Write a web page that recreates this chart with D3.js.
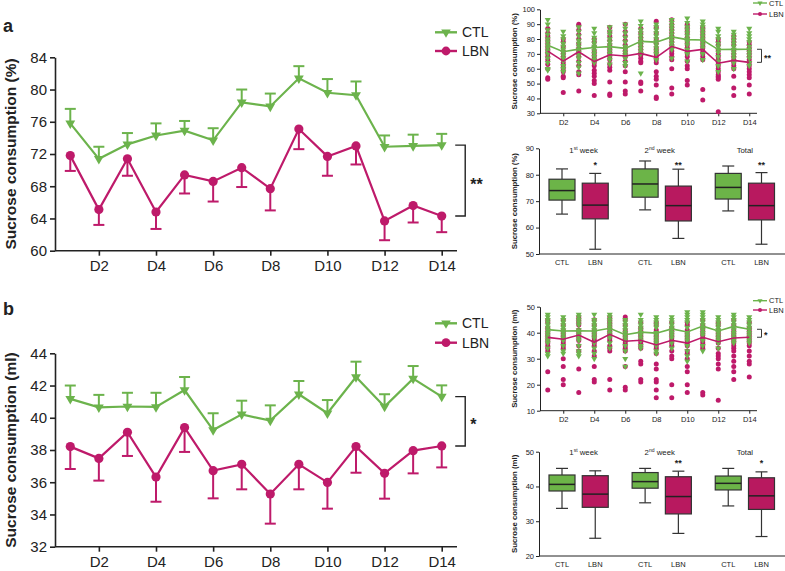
<!DOCTYPE html>
<html><head><meta charset="utf-8">
<script src="https://cdn.jsdelivr.net/npm/d3@7"></script>
<style>body{margin:0;background:#fff}svg{display:block;font-family:"Liberation Sans",Arial,sans-serif}</style>
</head><body><svg id="c" width="785" height="571"></svg>
<script>
// ---------------- DATA ----------------
const days = [1,2,3,4,5,6,7,8,9,10,11,12,13,14];
const dayTicks = [2,4,6,8,10,12,14];
const dayLabels = ["D2","D4","D6","D8","D10","D12","D14"];
const groups = ["CTL","LBN"];

// panel a: sucrose consumption (%)
const ctlPctMean = [75.8,71.4,73.2,74.3,74.9,73.7,78.4,77.9,81.4,79.6,79.3,72.9,73.0,73.1];
const ctlPctSem  = [1.8,1.5,1.4,1.5,1.2,1.5,1.6,1.6,1.5,1.7,1.7,1.4,1.4,1.4];
const lbnPctMean = [71.8,65.1,71.4,64.8,69.4,68.6,70.3,67.7,75.1,71.7,73.0,63.7,65.6,64.3];
const lbnPctSem  = [1.9,1.9,2.1,2.1,2.3,2.5,2.4,2.7,2.5,2.4,2.3,2.4,2.1,2.0];
const pctTicks = [60,64,68,72,76,80,84];

// panel b: sucrose consumption (ml)
const ctlMlMean = [41.17,40.65,40.7,40.67,41.72,39.24,40.21,39.82,41.46,40.28,42.53,40.69,42.43,41.31];
const ctlMlSem  = [0.83,0.77,0.85,0.88,0.81,1.04,0.85,0.95,0.82,0.82,0.95,0.77,0.78,0.70];
const lbnMlMean = [38.21,37.48,39.1,36.32,39.39,36.72,37.11,35.27,37.11,35.99,38.21,36.55,37.96,38.25];
const lbnMlSem  = [1.39,1.38,1.47,1.53,1.51,1.72,1.55,1.84,1.55,1.63,1.62,1.57,1.41,1.33];
const mlTicks = [32,34,36,38,40,42,44];

// individual animals per day (scatter insets)
const ctlPctPoints = [
 [93,90,86,83,80,78,76,74,72,70,67,64,60,59],
 [85,82,80,77,75,73,71,69,67,65,62,60,58],
 [88,85,82,79,77,75,73,71,69,67,64,61,57],
 [87,84,81,79,77,75,74,72,70,68,66,64],
 [88,85,83,80,78,76,74,72,70,68,66,63],
 [90,87,84,81,78,75,73,71,69,67,64,62],
 [92,89,86,84,82,80,78,76,74,72,70,57],
 [90,88,86,84,82,80,78,76,74,72,70,66],
 [93,91,89,87,85,83,81,79,77,75,73,67],
 [94,91,88,86,84,82,80,78,76,73,70,65],
 [92,90,88,86,84,82,80,78,76,74,70,66],
 [87,85,82,80,77,75,73,71,68,65,62,58],
 [85,83,81,79,77,75,73,71,69,67,64,60],
 [87,84,82,80,78,75,73,71,69,67,64,62]];
const lbnPctPoints = [
 [87,84,82,80,78,76,74,72,70,68,66,63,60,54,53],
 [80,78,75,72,70,68,66,64,62,60,58,55,54,44],
 [90,89,86,83,80,77,74,72,70,68,65,62,58,56,45],
 [80,78,75,72,70,68,66,64,62,59,57,55,52,50,42],
 [88,85,82,79,76,74,72,70,68,66,63,61,59,51,43,42],
 [90,85,82,79,76,74,72,70,68,65,62,58,51,45,43],
 [87,84,81,79,77,75,73,71,69,67,65,64,51,50,45],
 [92,88,84,80,77,74,72,70,68,66,64,58,55,53,49,41,40],
 [93,90,88,86,84,82,80,78,76,74,72,70,68,66,60,47,43],
 [90,88,86,84,81,78,76,74,72,70,68,65,62,60,52,49],
 [88,86,84,82,80,78,76,74,72,70,68,66,46,39],
 [80,78,76,73,70,68,66,64,62,60,58,56,55,54,53,31],
 [82,80,78,76,73,70,68,66,64,62,60,55,47,42],
 [78,76,74,72,70,68,66,64,62,60,58,56,54,49,43]];
const ctlMlPoints = [
 [47,46,45,44,43,42,41,40,39,38,37,36,34,32,31],
 [46,45,44,43,42,41,40,39,38,37,35,33,32],
 [47,46,45,44,43,41,40,39,38,37,35,33,32,31],
 [47,45,44,43,42,41,40,39,38,36,34,32,30],
 [47,46,45,44,43,42,41,40,39,38,36,34],
 [45,44,43,42,41,40,39,38,37,35,33,30,27],
 [47,45,44,43,42,41,40,39,38,37,35,34],
 [46,45,44,43,42,40,39,38,37,36,35,33,32],
 [46,45,44,43,42,41,40,39,38,36,34],
 [48,47,46,45,44,42,40,39,38,37,35,33,31,29],
 [48,47,46,45,44,43,42,41,40,39,37,35,33],
 [46,45,44,43,42,41,40,39,38,37,36,34],
 [47,46,45,44,43,42,41,40,39,38,37,36],
 [46,45,44,43,42,41,40,39,38,37,36]];
const lbnMlPoints = [
 [45,44,42,41,40,39,38,37,36,35,34,33,25,18],
 [45,43,41,40,39,38,37,36,35,34,30,27,22,20],
 [46,45,44,43,41,40,39,38,37,35,33,26,17],
 [45,43,41,40,39,38,37,36,35,33,31,27,22,21],
 [46,45,44,43,42,41,40,39,38,37,35,34,33,22,18],
 [46,45,43,41,40,39,38,37,36,35,34,33,27,19,18],
 [44,42,41,40,39,38,37,36,35,34,29,28,22,21],
 [44,43,41,40,39,38,37,36,35,34,32,28,26,22,21,18,15],
 [44,42,41,40,39,38,37,36,35,33,31,30,20,15],
 [44,43,41,40,39,38,37,36,35,33,32,30,27,25,20,17],
 [45,43,42,41,40,39,38,37,36,35,34,17,16],
 [44,43,41,40,39,38,37,36,34,32,31,30,28,26,14],
 [45,43,41,40,39,38,37,36,35,34,33,31,29,27,25,22],
 [44,42,41,40,39,38,37,36,35,33,31,29,28,23]];

// box plots: [min, q1, median, q3, max]
const periods = ["1st week","2nd week","Total"];
const boxPct = [
 [[65.1,70.4,74.0,78.3,82.2],[51.8,63.3,68.5,76.8,80.5]],
 [[66.7,71.5,76.5,82.2,85.2],[55.9,62.5,68.3,75.7,82.1]],
 [[66.3,70.8,75.2,80.5,83.3],[53.7,62.9,68.3,76.8,80.8]]];
const boxPctStars = ["*","**","**"];
const boxMl = [
 [[33.7,38.7,40.6,43.3,45.2],[25.1,34.0,37.8,43.1,44.5]],
 [[35.3,39.5,41.4,44.0,45.2],[26.5,32.1,37.1,42.8,44.4]],
 [[34.4,39.0,40.9,43.0,45.2],[25.6,33.4,37.3,42.5,44.2]]];
const boxMlStars = ["","**","*"];

// ---------------- STYLE ----------------
const GREEN = "#6cb34c", MAG = "#be1a6a", GREENF = "#6cb448", MAGF = "#b8195f", INK = "#222";
const svg = d3.select("#c");

function addYLabel(g, x, y, text, size, weight) {
  g.append("text").attr("transform", `translate(${x},${y}) rotate(-90)`)
   .attr("text-anchor","middle").attr("font-size",size).attr("font-weight",weight||"bold")
   .attr("fill",INK).text(text);
}
function styleAxis(a, fs, sw) {
  a.selectAll("path,line").attr("stroke",INK).attr("stroke-width",sw);
  a.selectAll("text").attr("font-size",fs).attr("fill",INK).attr("font-family","Liberation Sans, Arial, sans-serif");
}
const triDown = (s) => d3.symbol(d3.symbolTriangle, s)();

// ---------------- MAIN LINE CHARTS ----------------
function mainChart(o) {
  const g = svg.append("g");
  const x = d3.scaleLinear().domain([0.5,14.5]).range([56,456]);
  const y = d3.scaleLinear().domain(o.yDomain).range(o.yRange);
  const ax = g.append("g").attr("transform",`translate(0,${o.yRange[0]})`)
    .call(d3.axisBottom(x).tickValues(dayTicks).tickFormat((d,i)=>dayLabels[i]).tickSize(5).tickSizeOuter(0).tickPadding(5));
  styleAxis(ax,15,1.6);
  ax.select(".domain").attr("d",`M55,0H457`);
  const ay = g.append("g").attr("transform",`translate(55,0)`)
    .call(d3.axisLeft(y).tickValues(o.ticks).tickSize(5).tickSizeOuter(0).tickPadding(3));
  styleAxis(ay,15,1.6);
  addYLabel(g, 16, (o.yRange[0]+o.yRange[1])/2, o.label, 15.5);

  const series = [
    {mean:o.ctl, sem:o.ctlSem, col:GREEN, dir:1, mk:"tri"},
    {mean:o.lbn, sem:o.lbnSem, col:MAG, dir:-1, mk:"circ"}];
  series.forEach(s => {
    const eg = g.append("g").attr("stroke",s.col).attr("stroke-width",2);
    days.forEach((d,i) => {
      const y0 = y(s.mean[i]), y1 = y(s.mean[i] + s.dir*s.sem[i]);
      eg.append("line").attr("x1",x(d)).attr("x2",x(d)).attr("y1",y0).attr("y2",y1);
      eg.append("line").attr("x1",x(d)-5.5).attr("x2",x(d)+5.5).attr("y1",y1).attr("y2",y1);
    });
    g.append("path").datum(days).attr("fill","none").attr("stroke",s.col).attr("stroke-width",2.2)
      .attr("d", d3.line().x(d=>x(d)).y((d,i)=>y(s.mean[i])));
    days.forEach((d,i) => {
      if (s.mk==="circ") g.append("circle").attr("cx",x(d)).attr("cy",y(s.mean[i])).attr("r",4.6).attr("fill",s.col);
      else g.append("path").attr("d",triDown(42)).attr("transform",`translate(${x(d)},${y(s.mean[i])}) rotate(180)`).attr("fill",s.col);
    });
  });
  // bracket
  const yt = y(o.ctl[13]), yb = y(o.lbn[13]), bx = x(14)+23.5;
  g.append("path").attr("d",`M${bx-10},${yt}H${bx}V${yb}H${bx-10}`).attr("fill","none").attr("stroke",INK).attr("stroke-width",1.4);
  g.append("text").attr("x",bx+5).attr("y",(yt+yb)/2+9).attr("font-size",16).attr("font-weight","bold").attr("fill",INK).text(o.star);
  // legend
  const lg = g.append("g");
  [[GREEN,"CTL","tri"],[MAG,"LBN","circ"]].forEach((l,i) => {
    const ly = o.legendY[i];
    lg.append("line").attr("x1",435).attr("x2",457).attr("y1",ly).attr("y2",ly).attr("stroke",l[0]).attr("stroke-width",2.4);
    if (l[2]==="circ") lg.append("circle").attr("cx",446).attr("cy",ly).attr("r",4.4).attr("fill",l[0]);
    else lg.append("path").attr("d",triDown(40)).attr("transform",`translate(446,${ly}) rotate(180)`).attr("fill",l[0]);
    lg.append("text").attr("x",462).attr("y",ly+5).attr("font-size",14).attr("fill",INK).text(l[1]);
  });
  g.append("text").attr("x",3).attr("y",o.letterY).attr("font-size",18).attr("font-weight","bold").attr("fill",INK).text(o.letter);
}

mainChart({yDomain:[60,84], yRange:[250.7,57.3], ticks:pctTicks, ctl:ctlPctMean, ctlSem:ctlPctSem, lbn:lbnPctMean, lbnSem:lbnPctSem,
  label:"Sucrose consumption (%)", star:"**", legendY:[32.3,51], letter:"a", letterY:32});
mainChart({yDomain:[32,44], yRange:[546.7,353.3], ticks:mlTicks, ctl:ctlMlMean, ctlSem:ctlMlSem, lbn:lbnMlMean, lbnSem:lbnMlSem,
  label:"Sucrose consumption (ml)", star:"*", legendY:[323.3,342.7], letter:"b", letterY:315});

// ---------------- SCATTER INSETS ----------------
function scatterChart(o) {
  const g = svg.append("g");
  const x = d3.scaleLinear().domain([0.5,14.5]).range([540,757]);
  const y = d3.scaleLinear().domain(o.yDomain).range(o.yRange);
  const ax = g.append("g").attr("transform",`translate(0,${o.yRange[0]})`)
    .call(d3.axisBottom(x).tickValues(dayTicks).tickFormat((d,i)=>dayLabels[i]).tickSize(3).tickSizeOuter(0).tickPadding(3));
  styleAxis(ax,7.5,1);
  ax.select(".domain").attr("d",`M540,0H757`);
  const ay = g.append("g").attr("transform",`translate(540,0)`)
    .call(d3.axisLeft(y).tickValues(o.ticks).tickSize(3).tickSizeOuter(0).tickPadding(2));
  styleAxis(ay,7.5,1);
  addYLabel(g, 516.5, (o.yRange[0]+o.yRange[1])/2, o.label, 7.8);

  days.forEach((d,i) => {
    o.lbnPts[i].forEach(v => g.append("circle").attr("cx",x(d)).attr("cy",y(v)).attr("r",2.5).attr("fill",MAG));
  });
  days.forEach((d,i) => {
    o.ctlPts[i].forEach(v => g.append("path").attr("d",triDown(16)).attr("transform",`translate(${x(d)},${y(v)}) rotate(180)`).attr("fill",GREEN));
  });
  [[o.ctl,GREEN],[o.lbn,MAG]].forEach(s => {
    g.append("path").datum(days).attr("fill","none").attr("stroke",s[1]).attr("stroke-width",1.6)
      .attr("d", d3.line().x(d=>x(d)).y((d,i)=>y(s[0][i])));
  });
  const yt = y(o.ctl[13]), yb = y(o.lbn[13]), bx = 761.5;
  g.append("path").attr("d",`M${bx-4.5},${yt}H${bx}V${yb}H${bx-4.5}`).attr("fill","none").attr("stroke",INK).attr("stroke-width",0.9);
  g.append("text").attr("x",bx+2.5).attr("y",(yt+yb)/2+5).attr("font-size",9).attr("font-weight","bold").attr("fill",INK).text(o.star);
  [[GREEN,"CTL","tri"],[MAG,"LBN","circ"]].forEach((l,i) => {
    const ly = o.legendY[i];
    g.append("line").attr("x1",753).attr("x2",767).attr("y1",ly).attr("y2",ly).attr("stroke",l[0]).attr("stroke-width",1.4);
    if (l[2]==="circ") g.append("circle").attr("cx",760).attr("cy",ly).attr("r",2).attr("fill",l[0]);
    else g.append("path").attr("d",triDown(11)).attr("transform",`translate(760,${ly}) rotate(180)`).attr("fill",l[0]);
    g.append("text").attr("x",769).attr("y",ly+2.6).attr("font-size",7.5).attr("fill",INK).text(l[1]);
  });
}
scatterChart({yDomain:[30,100], yRange:[113.3,9.3], ticks:[30,40,50,60,70,80,90,100], ctl:ctlPctMean, lbn:lbnPctMean,
  ctlPts:ctlPctPoints, lbnPts:lbnPctPoints, label:"Sucrose consumption (%)", star:"**", legendY:[3,14]});
scatterChart({yDomain:[10,50], yRange:[410.7,306.7], ticks:[10,20,30,40,50], ctl:ctlMlMean, lbn:lbnMlMean,
  ctlPts:ctlMlPoints, lbnPts:lbnMlPoints, label:"Sucrose consumption (ml)", star:"*", legendY:[300.7,310]});

// ---------------- BOX PLOTS ----------------
function boxChart(o) {
  const g = svg.append("g");
  const pos = d3.scaleLinear().domain([0,6]).range([562,761.5]);
  const y = d3.scaleLinear().domain(o.yDomain).range(o.yRange);
  const ay = g.append("g").attr("transform",`translate(539,0)`)
    .call(d3.axisLeft(y).tickValues(o.ticks).tickSize(3).tickSizeOuter(0).tickPadding(2));
  styleAxis(ay,7.5,1);
  g.append("line").attr("x1",539).attr("x2",785).attr("y1",o.yRange[0]).attr("y2",o.yRange[0]).attr("stroke",INK).attr("stroke-width",1);
  addYLabel(g, 516.5, (o.yRange[0]+o.yRange[1])/2, o.label, 7.8);
  const bw = 26;
  const titleShift = [5, -2, 0];
  o.data.forEach((pair, p) => {
    pair.forEach((b, m) => {
      const cx = pos(p*2.5 + m);
      const st = "#333";
      g.append("line").attr("x1",cx).attr("x2",cx).attr("y1",y(b[4])).attr("y2",y(b[3])).attr("stroke",st).attr("stroke-width",1.2);
      g.append("line").attr("x1",cx).attr("x2",cx).attr("y1",y(b[1])).attr("y2",y(b[0])).attr("stroke",st).attr("stroke-width",1.2);
      [b[0],b[4]].forEach(v => g.append("line").attr("x1",cx-6).attr("x2",cx+6).attr("y1",y(v)).attr("y2",y(v)).attr("stroke",st).attr("stroke-width",1.2));
      g.append("rect").attr("x",cx-bw/2).attr("y",y(b[3])).attr("width",bw).attr("height",y(b[1])-y(b[3]))
        .attr("fill", m===0?GREENF:MAGF).attr("stroke",st).attr("stroke-width",1.2);
      g.append("line").attr("x1",cx-bw/2).attr("x2",cx+bw/2).attr("y1",y(b[2])).attr("y2",y(b[2])).attr("stroke","#222").attr("stroke-width",1.5);
      g.append("text").attr("x",cx).attr("y",o.yRange[0]+10.5).attr("text-anchor","middle").attr("font-size",7.5).attr("fill",INK).text(groups[m]);
      if (m===1 && o.stars[p]) g.append("text").attr("x",cx).attr("y",o.starY).attr("text-anchor","middle").attr("font-size",9).attr("font-weight","bold").attr("fill",INK).text(o.stars[p]);
    });
    const tx = (pos(p*2.5) + pos(p*2.5+1))/2 + titleShift[p];
    const t = g.append("text").attr("x",tx).attr("y",o.titleY).attr("text-anchor","middle").attr("font-size",7.8).attr("fill",INK);
    const name = periods[p];
    if (name === "Total") t.text("Total");
    else {
      t.append("tspan").text(name[0]);
      t.append("tspan").attr("dy",-3).attr("font-size",5).text(name.slice(1,3));
      t.append("tspan").attr("dy",3).text(name.slice(3));
    }
  });
}
boxChart({yDomain:[50,90], yRange:[254,148.3], ticks:[50,60,70,80,90], data:boxPct, stars:boxPctStars,
  label:"Sucrose consumption (%)", starY:168, titleY:153});
boxChart({yDomain:[20,50], yRange:[556,451.7], ticks:[20,30,40,50], data:boxMl, stars:boxMlStars,
  label:"Sucrose consumption (ml)", starY:466, titleY:455});
</script></body></html>
